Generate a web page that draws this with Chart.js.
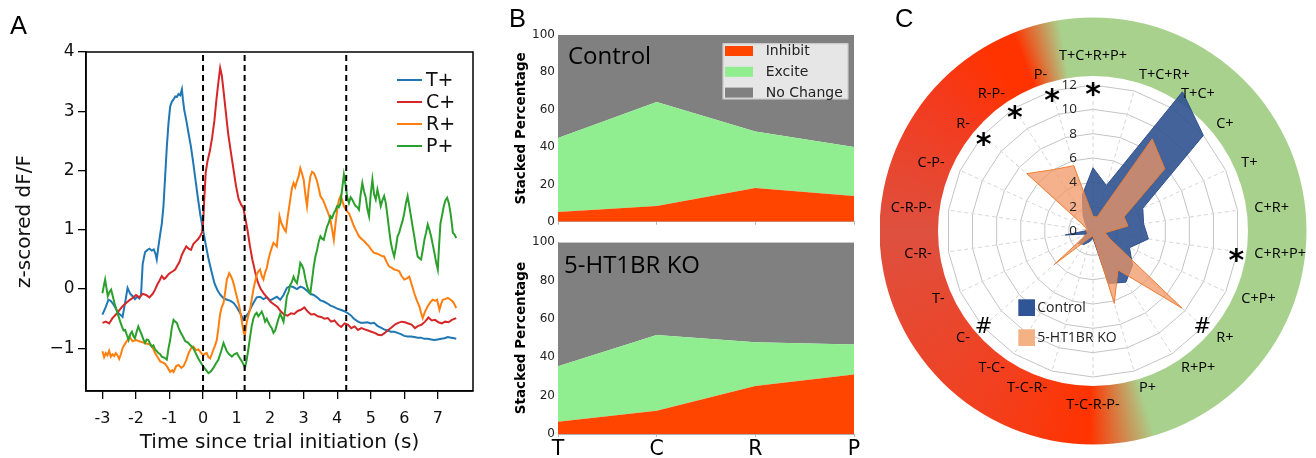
<!DOCTYPE html>
<html><head><meta charset="utf-8">
<script src="https://cdn.jsdelivr.net/npm/chart.js@4.4.1/dist/chart.umd.min.js"></script>
<style>
html,body{margin:0;padding:0;background:#fff;}
#wrap{position:relative;width:1316px;height:458px;overflow:hidden;background:#fff;}
canvas{position:absolute;}
.lbl{position:absolute;font-family:"Liberation Sans",Arial,sans-serif;font-size:25.5px;color:#000;line-height:1;}
</style></head><body>
<div id="wrap">
<canvas id="cA" width="480" height="458" style="left:0;top:0"></canvas>
<canvas id="cB1" width="380" height="232" style="left:500px;top:0"></canvas>
<canvas id="cB2" width="380" height="226" style="left:500px;top:232px"></canvas>
<canvas id="cC" width="436" height="458" style="left:880px;top:0"></canvas>
<div class="lbl" style="left:10px;top:13px">A</div>
<div class="lbl" style="left:509px;top:6px">B</div>
<div class="lbl" style="left:895px;top:6px">C</div>
</div>
<script>
// ---------------- Panel A data ----------------
const seriesNames = ['T+','C+','R+','P+'];
const timeT = [-3.0,-2.9,-2.82,-2.75,-2.67,-2.6,-2.52,-2.45,-2.4,-2.33,-2.25,-2.17,-2.1,-2.03,-1.97,-1.9,-1.85,-1.8,-1.73,-1.66,-1.6,-1.53,-1.47,-1.42,-1.38,-1.33,-1.28,-1.23,-1.18,-1.13,-1.08,-1.03,-0.98,-0.93,-0.88,-0.83,-0.78,-0.73,-0.68,-0.63,-0.6,-0.56,-0.5,-0.43,-0.36,-0.29,-0.22,-0.15,-0.08,0.0,0.08,0.16,0.25,0.34,0.43,0.52,0.62,0.72,0.82,0.92,1.02,1.12,1.2,1.28,1.36,1.44,1.52,1.6,1.7,1.8,1.9,2.0,2.1,2.2,2.3,2.4,2.5,2.6,2.7,2.8,2.9,3.0,3.1,3.2,3.3,3.4,3.5,3.6,3.7,3.8,3.9,4.0,4.1,4.2,4.3,4.4,4.5,4.6,4.7,4.8,4.9,5.0,5.1,5.2,5.3,5.4,5.5,5.6,5.7,5.8,5.9,6.0,6.1,6.2,6.3,6.4,6.5,6.6,6.7,6.8,6.9,7.0,7.1,7.2,7.3,7.4,7.5,7.55];
const valT = [-0.43,-0.30,-0.18,-0.2,-0.26,-0.33,-0.41,-0.44,-0.47,-0.25,0.02,-0.08,-0.12,-0.17,-0.13,-0.16,-0.1,0.42,0.62,0.66,0.68,0.65,0.67,0.6,0.5,0.72,0.92,1.1,1.4,1.9,2.4,2.8,3.08,3.16,3.2,3.25,3.24,3.29,3.27,3.37,3.2,3.02,2.85,2.62,2.4,2.12,1.82,1.52,1.25,1.0,0.75,0.52,0.3,0.1,-0.02,-0.1,-0.16,-0.18,-0.2,-0.24,-0.32,-0.42,-0.52,-0.46,-0.4,-0.3,-0.22,-0.14,-0.13,-0.17,-0.14,-0.19,-0.16,-0.13,-0.18,-0.1,0.02,0.05,0.03,0.0,0.04,0.02,-0.03,-0.08,-0.1,-0.14,-0.19,-0.21,-0.24,-0.28,-0.3,-0.33,-0.35,-0.37,-0.4,-0.44,-0.5,-0.54,-0.57,-0.57,-0.56,-0.58,-0.57,-0.62,-0.65,-0.68,-0.7,-0.72,-0.72,-0.74,-0.76,-0.79,-0.8,-0.8,-0.81,-0.82,-0.82,-0.84,-0.84,-0.85,-0.86,-0.85,-0.84,-0.83,-0.81,-0.82,-0.83,-0.84];
const timeC = [-3.0,-2.9,-2.8,-2.7,-2.6,-2.5,-2.4,-2.3,-2.2,-2.1,-2.0,-1.9,-1.8,-1.7,-1.6,-1.5,-1.43,-1.36,-1.3,-1.23,-1.16,-1.1,-1.03,-0.96,-0.9,-0.83,-0.76,-0.7,-0.63,-0.56,-0.5,-0.43,-0.36,-0.29,-0.22,-0.15,-0.08,-0.03,0.0,0.04,0.08,0.13,0.2,0.27,0.34,0.4,0.46,0.51,0.56,0.62,0.68,0.75,0.82,0.9,0.98,1.06,1.14,1.2,1.26,1.33,1.4,1.47,1.55,1.63,1.72,1.82,1.92,2.02,2.12,2.22,2.32,2.42,2.52,2.62,2.72,2.82,2.92,3.02,3.12,3.22,3.32,3.42,3.52,3.62,3.72,3.82,3.92,4.02,4.12,4.22,4.32,4.42,4.52,4.62,4.72,4.82,4.92,5.02,5.12,5.22,5.32,5.42,5.52,5.62,5.72,5.82,5.92,6.02,6.12,6.22,6.32,6.42,6.52,6.62,6.72,6.82,6.92,7.02,7.12,7.22,7.32,7.42,7.55];
const valC = [-0.57,-0.55,-0.58,-0.49,-0.43,-0.36,-0.29,-0.24,-0.19,-0.15,-0.1,-0.14,-0.08,-0.1,-0.14,-0.08,-0.01,0.08,0.14,0.22,0.17,0.2,0.25,0.28,0.3,0.33,0.4,0.46,0.58,0.66,0.72,0.68,0.66,0.76,0.8,0.84,0.9,0.96,1.1,1.55,1.97,2.15,2.32,2.55,2.85,3.2,3.5,3.73,3.6,3.3,2.98,2.62,2.35,2.05,1.75,1.52,1.42,1.37,1.2,0.98,0.72,0.5,0.3,0.12,0.0,-0.08,-0.15,-0.22,-0.26,-0.3,-0.38,-0.43,-0.45,-0.41,-0.42,-0.37,-0.35,-0.31,-0.38,-0.43,-0.42,-0.46,-0.47,-0.5,-0.49,-0.55,-0.53,-0.6,-0.64,-0.58,-0.6,-0.66,-0.63,-0.69,-0.66,-0.68,-0.7,-0.72,-0.74,-0.77,-0.78,-0.74,-0.69,-0.65,-0.6,-0.57,-0.55,-0.56,-0.58,-0.6,-0.66,-0.62,-0.6,-0.55,-0.48,-0.53,-0.52,-0.56,-0.58,-0.55,-0.56,-0.52,-0.49];
const timeR = [-3.0,-2.95,-2.9,-2.85,-2.8,-2.75,-2.7,-2.65,-2.6,-2.55,-2.5,-2.45,-2.4,-2.35,-2.3,-2.25,-2.2,-2.15,-2.1,-2.0,-1.9,-1.8,-1.7,-1.6,-1.5,-1.43,-1.35,-1.28,-1.2,-1.13,-1.05,-0.98,-0.92,-0.88,-0.8,-0.73,-0.65,-0.58,-0.5,-0.43,-0.36,-0.29,-0.2,-0.14,-0.05,0.01,0.06,0.11,0.16,0.21,0.26,0.31,0.36,0.41,0.46,0.51,0.56,0.61,0.66,0.71,0.75,0.78,0.83,0.88,0.93,0.98,1.03,1.08,1.13,1.18,1.22,1.25,1.3,1.35,1.4,1.45,1.5,1.55,1.6,1.65,1.7,1.75,1.8,1.85,1.9,1.95,2.0,2.05,2.1,2.15,2.2,2.25,2.28,2.33,2.38,2.43,2.47,2.52,2.6,2.65,2.7,2.75,2.8,2.85,2.9,2.95,3.0,3.05,3.1,3.15,3.2,3.25,3.3,3.35,3.4,3.45,3.5,3.58,3.65,3.72,3.8,3.85,3.9,3.95,4.0,4.05,4.1,4.15,4.2,4.28,4.35,4.42,4.5,4.58,4.65,4.72,4.8,4.88,4.95,5.02,5.1,5.18,5.25,5.32,5.4,5.48,5.55,5.62,5.7,5.78,5.85,5.92,6.0,6.08,6.15,6.22,6.3,6.38,6.45,6.5,6.55,6.62,6.7,6.78,6.85,6.92,6.98,7.05,7.1,7.15,7.22,7.3,7.38,7.45,7.5,7.55];
const valR = [-1.05,-1.15,-1.08,-1.12,-1.04,-1.14,-1.1,-1.13,-1.08,-1.12,-1.18,-1.1,-1.0,-0.95,-0.9,-0.86,-0.8,-0.84,-0.88,-0.86,-0.88,-0.9,-0.92,-0.93,-0.99,-1.08,-1.15,-1.22,-1.24,-1.26,-1.33,-1.4,-1.37,-1.4,-1.3,-1.28,-1.33,-1.3,-1.2,-1.08,-1.0,-0.97,-1.03,-1.02,-1.08,-1.12,-1.09,-1.08,-1.15,-1.17,-1.1,-1.02,-0.95,-0.86,-0.65,-0.42,-0.3,-0.24,-0.05,0.16,0.22,0.27,0.22,0.15,0.05,-0.07,-0.18,-0.29,-0.45,-0.63,-0.75,-0.77,-0.57,-0.45,-0.35,-0.18,-0.01,0.12,0.24,0.3,0.33,0.22,0.16,0.28,0.35,0.5,0.61,0.7,0.78,0.75,0.72,1.0,1.23,1.12,1.06,1.0,0.97,1.2,1.51,1.7,1.79,1.72,1.82,1.9,2.04,1.95,1.85,1.6,1.4,1.7,1.9,1.98,1.96,1.9,1.82,1.7,1.57,1.5,1.4,1.3,1.17,1.0,0.83,1.1,1.34,1.5,1.57,1.5,1.4,1.32,1.28,1.18,1.06,0.97,0.89,0.85,0.81,0.76,0.72,0.66,0.61,0.6,0.58,0.56,0.55,0.45,0.38,0.36,0.33,0.32,0.3,0.22,0.16,0.18,0.21,0.08,-0.07,-0.2,-0.29,-0.4,-0.49,-0.38,-0.29,-0.22,-0.18,-0.2,-0.18,-0.35,-0.25,-0.18,-0.17,-0.15,-0.18,-0.21,-0.26,-0.32];
const timeP = [-3.0,-2.96,-2.92,-2.88,-2.84,-2.79,-2.74,-2.69,-2.64,-2.58,-2.52,-2.47,-2.42,-2.37,-2.32,-2.27,-2.22,-2.17,-2.12,-2.07,-2.03,-1.98,-1.93,-1.88,-1.83,-1.78,-1.73,-1.68,-1.63,-1.58,-1.53,-1.48,-1.43,-1.38,-1.33,-1.28,-1.23,-1.15,-1.08,-1.03,-0.98,-0.93,-0.88,-0.83,-0.78,-0.73,-0.68,-0.6,-0.53,-0.46,-0.39,-0.34,-0.29,-0.22,-0.14,-0.07,0.01,0.08,0.16,0.23,0.31,0.38,0.46,0.54,0.61,0.66,0.71,0.78,0.86,0.93,1.01,1.08,1.16,1.21,1.25,1.3,1.35,1.4,1.45,1.5,1.55,1.6,1.65,1.7,1.75,1.8,1.85,1.9,1.95,2.0,2.05,2.1,2.15,2.2,2.25,2.3,2.35,2.4,2.45,2.5,2.55,2.6,2.65,2.7,2.75,2.8,2.85,2.9,2.95,3.0,3.05,3.1,3.15,3.2,3.25,3.3,3.35,3.4,3.45,3.5,3.55,3.6,3.65,3.7,3.75,3.8,3.85,3.9,3.95,4.0,4.05,4.1,4.15,4.2,4.25,4.3,4.35,4.4,4.45,4.5,4.55,4.6,4.65,4.7,4.75,4.8,4.85,4.9,4.95,5.0,5.05,5.1,5.15,5.2,5.25,5.3,5.35,5.4,5.45,5.5,5.55,5.6,5.65,5.7,5.75,5.8,5.85,5.9,5.95,6.0,6.05,6.1,6.15,6.2,6.25,6.3,6.35,6.4,6.45,6.5,6.55,6.6,6.65,6.7,6.75,6.8,6.85,6.9,6.95,7.0,7.04,7.08,7.13,7.18,7.23,7.28,7.33,7.38,7.42,7.45,7.5,7.55];
const valP = [-0.07,0.05,0.16,0.02,-0.12,-0.05,-0.01,-0.12,-0.24,-0.35,-0.46,-0.55,-0.63,-0.7,-0.69,-0.78,-0.86,-0.76,-0.72,-0.8,-0.83,-0.72,-0.63,-0.7,-0.77,-0.85,-0.91,-0.85,-0.86,-0.92,-0.97,-0.95,-1.02,-1.05,-1.08,-1.1,-1.14,-1.16,-1.19,-1.0,-0.86,-0.65,-0.52,-0.55,-0.57,-0.65,-0.72,-0.8,-0.88,-0.9,-0.94,-0.97,-1.0,-1.08,-1.17,-1.24,-1.31,-1.36,-1.42,-1.39,-1.33,-1.26,-1.19,-1.05,-0.91,-0.98,-1.05,-1.1,-1.14,-1.1,-1.08,-1.15,-1.22,-1.28,-1.33,-1.2,-1.02,-0.82,-0.63,-0.5,-0.43,-0.4,-0.46,-0.42,-0.38,-0.45,-0.55,-0.5,-0.57,-0.62,-0.66,-0.74,-0.7,-0.6,-0.5,-0.42,-0.48,-0.55,-0.35,-0.12,-0.05,0.07,0.12,0.21,0.14,0.1,0.25,0.44,0.4,0.33,0.18,0.05,-0.03,-0.07,0.15,0.38,0.55,0.66,0.8,0.89,0.85,0.83,0.95,1.06,1.12,1.23,1.2,1.28,1.33,1.4,1.38,1.45,1.7,1.93,1.75,1.55,1.45,1.55,1.51,1.45,1.4,1.38,1.34,1.6,1.79,1.65,1.55,1.35,1.23,1.6,1.85,1.6,1.51,1.68,1.55,1.4,1.5,1.57,1.45,1.23,1.0,0.78,0.65,0.55,0.7,0.89,0.95,1.06,1.15,1.28,1.45,1.57,1.4,1.23,1.05,0.89,0.7,0.55,0.52,0.5,0.65,0.83,0.95,1.09,1.0,0.89,0.75,0.61,0.45,0.33,0.75,1.11,1.25,1.4,1.5,1.54,1.45,1.28,1.1,0.95,0.92,0.86];
const eventTimes = [0, 1.24, 4.27];
const xTicksA = [-3,-2,-1,0,1,2,3,4,5,6,7];
const yTicksA = [-1,0,1,2,3,4];

// ---------------- Panel B data ----------------
const stages = ['T','C','R','P'];
const stackNames = ['Inhibit','Excite','No Change'];
const ctrlInhibit = [5.2, 8.4, 18.1, 13.8];
const ctrlExcite = [39.6, 55.7, 30.3, 26.2];
const ctrlNoChange = [55.2, 35.9, 51.6, 60.0];
const koInhibit = [6.4, 12.1, 25.0, 31.0];
const koExcite = [28.9, 39.5, 22.8, 15.6];
const koNoChange = [64.7, 48.4, 52.2, 53.4];
const pctTicks = [0,20,40,60,80,100];

// ---------------- Panel C data ----------------
const radarCategories = ['T+C+R+P+','T+C+R+','T+C+','C+','T+','C+R+','C+R+P+','C+P+','R+','R+P+','P+','T-C-R-P-','T-C-R-','T-C-','C-','T-','C-R-','C-R-P-','C-P-','R-','R-P-','P-'];
const controlCounts = [5.2,3.9,13.6,12.0,4.5,4.2,4.6,3.3,4.3,5.0,4.5,0.6,0.9,1.3,1.6,0.6,2.3,0.4,0.5,0.8,1.5,3.1];
const koCounts = [1.2,1.2,9.0,7.8,2.8,2.9,1.0,1.5,9.7,3.8,6.2,0.4,0.5,0.8,4.2,0.5,0.5,0.6,0.6,7.2,6.0,5.6];
const radarTicks = [0,2,4,6,8,10,12];
const markIndex = [0,21,20,19,6,14,8];
const markSymbol = ['*','*','*','*','*','#','#'];

// ---------------- common ----------------
Chart.defaults.font.family = '"DejaVu Sans", sans-serif';
Chart.defaults.animation = false;
const pts = (ts, vs) => ts.map((t, i) => ({x: t, y: vs[i]}));
const noPlug = {legend: {display: false}, tooltip: {enabled: false}};

// ================= Panel A =================
const colorsA = {'T+': '#1f77b4', 'C+': '#d62728', 'R+': '#ff7f0e', 'P+': '#2ca02c'};
const seriesData = {'T+': [timeT, valT], 'C+': [timeC, valC], 'R+': [timeR, valR], 'P+': [timeP, valP]};
const yMinA = -1.72, yMaxA = 4;
const dsA = [];
eventTimes.forEach(t => dsA.push({data: [{x: t, y: yMinA}, {x: t, y: yMaxA}], borderColor: '#000', borderWidth: 2, borderDash: [6, 4], pointRadius: 0, order: 0}));
seriesNames.forEach((n, i) => dsA.push({label: n, data: pts(seriesData[n][0], seriesData[n][1]), borderColor: colorsA[n], borderWidth: 2, pointRadius: 0, tension: 0, order: 4 - i}));

const frameA = {id: 'frameA', afterDraw(chart) {
  const {ctx, chartArea: a} = chart;
  ctx.save(); ctx.strokeStyle = '#000'; ctx.lineWidth = 1.5;
  ctx.strokeRect(a.left, a.top, a.right - a.left, a.bottom - a.top);
  ctx.restore();
}};
const legendA = {id: 'legendA', afterDraw(chart) {
  const {ctx, chartArea: a} = chart;
  ctx.save(); ctx.font = '19px "DejaVu Sans"'; ctx.textBaseline = 'middle'; ctx.fillStyle = '#111';
  seriesNames.forEach((n, i) => {
    const y = a.top + 28 + i * 22;
    ctx.strokeStyle = colorsA[n]; ctx.lineWidth = 2;
    ctx.beginPath(); ctx.moveTo(a.right - 76, y); ctx.lineTo(a.right - 51, y); ctx.stroke();
    ctx.fillText(n, a.right - 47, y + 1);
  });
  ctx.restore();
}};

new Chart(document.getElementById('cA'), {
  type: 'line',
  data: {datasets: dsA},
  options: {
    responsive: false, animation: false,
    layout: {padding: {top: 52, right: 7, left: 0, bottom: 0}},
    plugins: noPlug,
    scales: {
      x: {type: 'linear', min: -3.49, max: 8.05,
        afterBuildTicks: s => { s.ticks = xTicksA.map(v => ({value: v})); },
        afterFit: s => { s.height = 67; },
        grid: {drawOnChartArea: false, drawTicks: true, tickLength: 8, color: '#000', lineWidth: 1.3},
        border: {display: true, color: '#000', width: 1.5},
        ticks: {autoSkip: false, maxRotation: 0, font: {size: 16}, color: '#111', padding: 10,
          callback: v => (v < 0 ? '-' + Math.abs(v) : String(v))},
        title: {display: true, text: 'Time since trial initiation (s)', font: {size: 20}, color: '#111', padding: {top: 0, bottom: 3}}
      },
      y: {type: 'linear', min: yMinA, max: yMaxA,
        afterBuildTicks: s => { s.ticks = yTicksA.map(v => ({value: v})); },
        afterFit: s => { s.width = 86; },
        grid: {drawOnChartArea: false, drawTicks: true, tickLength: 8, color: '#000', lineWidth: 1.3},
        border: {display: true, color: '#000', width: 1.5},
        ticks: {font: {size: 17}, color: '#111', padding: 3.5,
          callback: v => (v < 0 ? '\u2212' + Math.abs(v) : String(v))},
        title: {display: true, text: 'z-scored dF/F', font: {size: 20}, color: '#111', padding: {top: 13, bottom: 0}}
      }
    }
  },
  plugins: [frameA, legendA]
});

// ================= Panel B =================
const stackColors = ['#ff4500', '#90ee90', '#808080'];
function panelText(txt, dx, dy) {
  return {id: 'ptxt', afterDatasetsDraw(chart) {
    const {ctx, chartArea: a} = chart;
    ctx.save(); ctx.font = '24px "Open Sans"'; ctx.fillStyle = '#000'; ctx.textBaseline = 'alphabetic';
    ctx.fillText(txt, a.left + dx, a.top + dy); ctx.restore();
  }};
}
const legendB = {id: 'legendB', afterDraw(chart) {
  const {ctx, chartArea: a} = chart;
  const w = 125.6, h = 56, x0 = a.right - 5.7 - w, y0 = a.top + 8.3;
  ctx.save();
  ctx.fillStyle = 'rgba(255,255,255,0.8)'; ctx.fillRect(x0, y0, w, h);
  ctx.strokeStyle = '#cccccc'; ctx.lineWidth = 1; ctx.strokeRect(x0 + 0.5, y0 + 0.5, w - 1, h - 1);
  ctx.font = '14px "DejaVu Sans"'; ctx.textBaseline = 'middle';
  chart.data.datasets.forEach((d, i) => {
    const yc = y0 + 7.7 + i * 20.8;
    ctx.fillStyle = d.backgroundColor; ctx.fillRect(x0 + 2.3, yc - 5, 28, 10);
    ctx.fillStyle = '#222'; ctx.fillText(d.label, x0 + 43, yc + 0.5);
  });
  ctx.restore();
}};
function stackedChart(id, inh, exc, noc, extraPlugins, showX, padTop, xHeight) {
  const vals = [inh, exc, noc];
  return new Chart(document.getElementById(id), {
    type: 'line',
    data: {labels: stages, datasets: stackNames.map((n, i) => ({
      label: n, data: vals[i], backgroundColor: stackColors[i], borderColor: stackColors[i],
      borderWidth: 0, pointRadius: 0, tension: 0, fill: i === 0 ? 'origin' : '-1'}))},
    options: {
      responsive: false, animation: false,
      layout: {padding: {top: padTop, right: 26, left: 0, bottom: 0}},
      plugins: noPlug,
      scales: {
        x: {type: 'category', offset: false,
          grid: {display: true, drawOnChartArea: false, drawTicks: true, tickLength: 3, color: '#b8b8b8'},
          border: {display: true, color: '#b0b0b0'},
          ticks: {display: showX, autoSkip: false, maxRotation: 0, font: {size: 20.5}, color: '#000', padding: 0},
          afterFit: s => { s.height = xHeight; }},
        y: {stacked: true, min: 0, max: 100,
          afterBuildTicks: s => { s.ticks = pctTicks.map(v => ({value: v})); },
          afterFit: s => { s.width = 58; },
          grid: {display: false, drawTicks: false}, border: {display: true, color: '#b0b0b0'},
          ticks: {font: {size: 12}, color: '#222', padding: 3},
          title: {display: true, text: 'Stacked Percentage', font: {size: 13.5, weight: 'bold'}, color: '#000', padding: {top: 13.6, bottom: 0}}}
      }
    },
    plugins: extraPlugins
  });
}
stackedChart('cB1', ctrlInhibit, ctrlExcite, ctrlNoChange, [panelText('Control', 10, 29), legendB], false, 35, 4);
stackedChart('cB2', koInhibit, koExcite, koNoChange, [panelText('5-HT1BR KO', 6, 31)], true, 8.7, 24);

// ================= Panel C =================
const ringPlugin = {id: 'ring', beforeDraw(chart) {
  const s = chart.scales.r, ctx = chart.ctx;
  const cx = s.xCenter, cy = s.yCenter;
  const rOut = s.drawingArea + 67.5, rIn = s.drawingArea + 9;
  const g = ctx.createConicGradient(-Math.PI / 2, cx, cy);
  const G = '#a9d18e';
  [[0, G], [163 / 360, G], [181 / 360, '#ff3300'], [212 / 360, '#f2401f'], [270 / 360, '#de503f'],
   [312 / 360, '#f43a1c'], [330 / 360, '#ff3300'], [338 / 360, '#ff3300'], [351 / 360, G], [1, G]]
    .forEach(([o, c]) => g.addColorStop(o, c));
  ctx.save();
  ctx.beginPath(); ctx.arc(cx, cy, rOut, 0, Math.PI * 2); ctx.arc(cx, cy, rIn, 0, Math.PI * 2, true);
  ctx.fillStyle = g; ctx.fill();
  ctx.restore();
}};
const radarText = {id: 'radarText', afterDraw(chart) {
  const s = chart.scales.r, ctx = chart.ctx;
  ctx.save();
  ctx.font = '14.5px "Open Sans"'; ctx.fillStyle = '#000'; ctx.textBaseline = 'middle';
  radarCategories.forEach((lab, i) => {
    const p = s.getPointPosition(i, s.drawingArea + 17);
    const deg = Math.round(s.getIndexAngle(i) * 180 / Math.PI) % 360;
    let y = p.y;
    if (deg === 0) { ctx.textAlign = 'center'; y -= 12; }
    else if (deg === 180) { ctx.textAlign = 'center'; y += 11; }
    else ctx.textAlign = deg < 180 ? 'left' : 'right';
    ctx.fillText(lab, p.x, y);
  });
  ctx.font = '13.5px "Open Sans"'; ctx.fillStyle = '#222'; ctx.textAlign = 'right';
  radarTicks.forEach(v => {
    ctx.fillText(String(v), s.xCenter - 16, s.yCenter - s.getDistanceFromCenterForValue(v));
  });
  ctx.fillStyle = '#000'; ctx.textAlign = 'center'; ctx.textBaseline = 'alphabetic';
  markIndex.forEach((idx, k) => {
    const p = s.getPointPosition(idx, s.getDistanceFromCenterForValue(11.9));
    if (markSymbol[k] === '*') { ctx.font = 'bold 30px "DejaVu Sans"'; ctx.fillText('*', p.x, p.y + 18); }
    else { ctx.font = '21px "DejaVu Sans"'; ctx.fillText('#', p.x, p.y + 7.5); }
  });
  ctx.font = '14px "Open Sans"'; ctx.textAlign = 'left'; ctx.textBaseline = 'middle';
  chart.data.datasets.forEach((d, i) => {
    const x = s.xCenter - 74.7, y = s.yCenter + 68.3 + i * 30;
    ctx.fillStyle = d.legendColor; ctx.fillRect(x, y, 16.7, 16.7);
    ctx.fillStyle = '#222'; ctx.fillText(d.label, x + 19, y + 8.5);
  });
  ctx.restore();
}};
new Chart(document.getElementById('cC'), {
  type: 'radar',
  data: {labels: radarCategories, datasets: [
    {label: 'Control', data: controlCounts, backgroundColor: 'rgba(47,82,143,0.9)', borderColor: 'rgba(47,82,143,1)', legendColor: '#2f5597',
      borderWidth: 1, pointRadius: 0, fill: true, tension: 0, order: 1, clip: false},
    {label: '5-HT1BR KO', data: koCounts, backgroundColor: 'rgba(240,150,100,0.74)', borderColor: '#ed7d31', legendColor: '#f4b183',
      borderWidth: 1, pointRadius: 0, fill: true, tension: 0, order: 0, clip: false}
  ]},
  options: {
    responsive: false, animation: false,
    layout: {padding: {left: 67, right: 77, top: 85, bottom: 81}},
    plugins: noPlug,
    scales: {r: {min: 0, max: 12,
      ticks: {display: false, stepSize: 2},
      pointLabels: {display: false},
      grid: {color: '#c4c4c4', lineWidth: 1},
      angleLines: {color: '#d6d6d6', lineWidth: 1, borderDash: [4, 3]}}}
  },
  plugins: [ringPlugin, radarText]
});
</script>
</body></html>
